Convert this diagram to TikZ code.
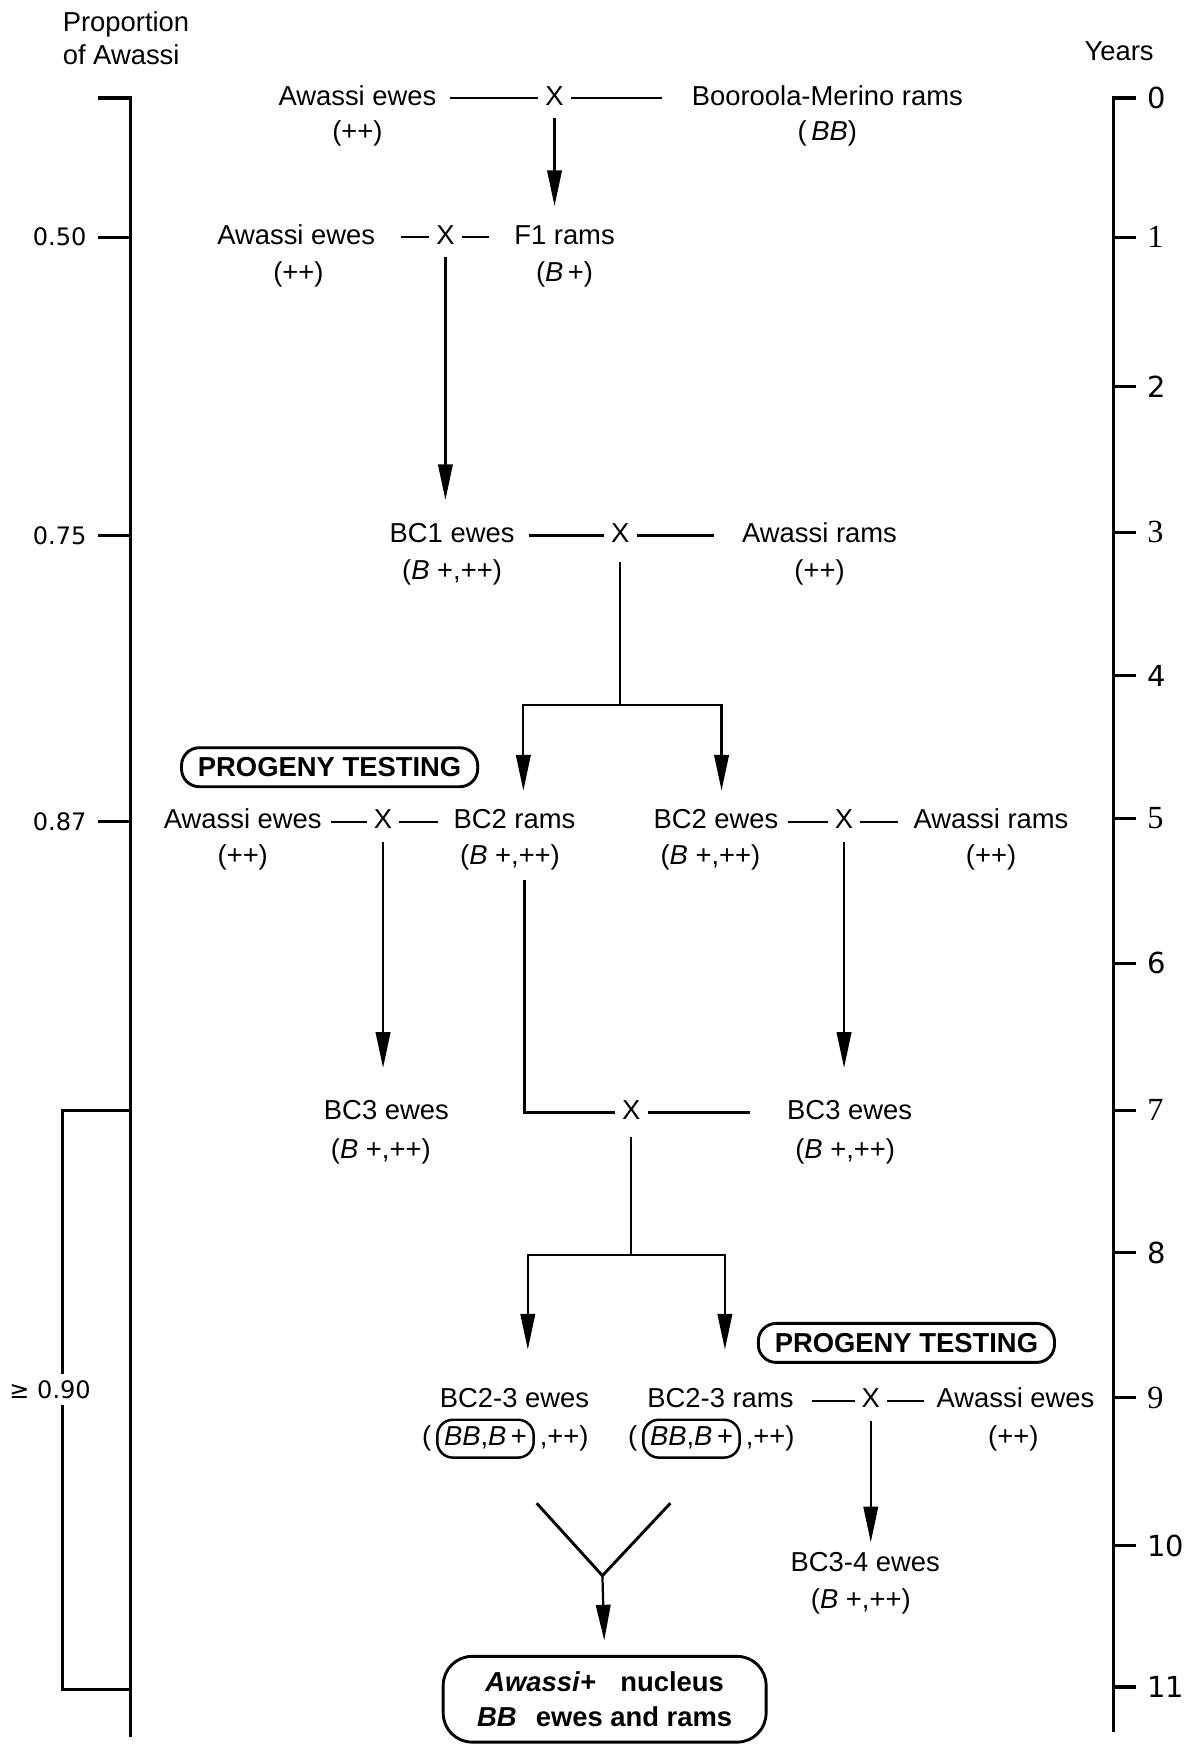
\documentclass[tikz,border=0pt]{standalone}
\usepackage{fontspec}
\setmainfont{Liberation Sans}
\newfontfamily\numfont{DejaVu Sans}
\newfontfamily\yearserif{Liberation Serif}
\usetikzlibrary{arrows.meta,positioning,calc}
\tikzset{
  lbl/.style={font=\fontsize{12.3}{15}\selectfont,inner sep=2pt,text height=9pt,text depth=2.6pt},
  cross/.style={lbl,inner sep=3pt},
  link/.style={line width=1pt},
  arr/.style={link,-{Triangle[length=16pt,width=6.5pt]}},
  axis/.style={line width=1.4pt},
  tick/.style={font=\numfont\fontsize{10.8}{13}\selectfont,inner sep=1pt},
  yr/.style={font=\numfont\fontsize{13}{15}\selectfont,anchor=west,inner sep=1pt},
  yrodd/.style={yr,font=\yearserif\fontsize{14.5}{16}\selectfont},
  testbox/.style={draw,line width=1.3pt,rounded corners=8pt,minimum width=133pt,minimum height=17.5pt,inner sep=1pt,font=\fontsize{12.3}{15}\selectfont\bfseries},
  gbox/.style={lbl,draw,line width=1.1pt,rounded corners=7pt,minimum height=17pt,inner xsep=3pt},
  nucleus/.style={draw,line width=1.3pt,rounded corners=13pt,minimum width=145pt,minimum height=38.5pt,align=center,font=\fontsize{12.3}{16}\selectfont\bfseries},
}

\begin{document}
\begin{tikzpicture}[x=0.5pt,y=-0.5pt]
  \useasboundingbox (0,0) rectangle (1076,1568);
  % scales
  \node[lbl,align=left,anchor=north west,text height=,text depth=] (prop) at (52,6) {Proportion\\of Awassi};
  \node[lbl] (years) at (1005,48) {Years};
  \draw[axis] (88,88) -- (117,88) -- (117,1560);
  \foreach \y/\p in {213/0.50,481/0.75,738/0.87}{
    \draw[axis] (88,\y) -- (117,\y);
    \node[tick,anchor=east] (p\y) at (80,\y) {\p};
  }
  \draw[axis] (117,997) -- (56,997) -- (56,1517) -- (117,1517);
  \node[tick,fill=white,inner ysep=3pt] (p90) at (45,1248) {≥ 0.90};
  \draw[axis] (1020,88) -- (1000,88) -- (1000,1555);
  \foreach \y/\n/\s in {88/0/yr,213/1/yrodd,347/2/yr,478/3/yrodd,607/4/yr,735/5/yrodd,
      865/6/yr,997/7/yrodd,1125/8/yr,1255/9/yrodd,1388/10/yr,1515/11/yr}{
    \draw[axis] (1000,\y) -- (1020,\y);
    \node[\s] (yr\n) at (1028,\y) {\n};
  }

  % year 0
  \node[lbl] (aw0) at (321,88) {Awassi ewes};
  \node[lbl] (aw0g) at (321,120) {(++)};
  \node[cross] (x0) at (498,88) {X};
  \node[lbl] (bm0) at (743,88) {Booroola-Merino rams};
  \node[lbl] (bm0g) at (743,120) {(\,\textit{BB})};
  % year 1
  \node[lbl] (aw1) at (266,213) {Awassi ewes};
  \node[lbl] (aw1g) at (268,246) {(++)};
  \node[cross] (x1) at (400,213) {X};
  \node[lbl] (f1) at (507,213) {F1 rams};
  \node[lbl] (f1g) at (507,246) {(\textit{B}\,+)};
  \draw[link,shorten <=4pt] (aw0) -- (x0);
  \draw[link,shorten >=11pt] (x0) -- (bm0);
  \draw[arr,shorten >=6pt] (x0) -- (x0 |- f1.north);
  \draw[link,shorten <=9.5pt] (aw1) -- (x1);
  \draw[link,shorten >=9pt] (x1) -- (f1);
  % year 3
  \node[lbl] (bc1) at (406,481) {BC1 ewes};
  \node[lbl] (bc1g) at (406,514) {(\textit{B} +,++)};
  \node[cross] (x3) at (557,481) {X};
  \node[lbl] (aw3) at (736,481) {Awassi rams};
  \node[lbl] (aw3g) at (736,514) {(++)};
  \draw[arr,shorten >=8pt] (x1) -- (x1 |- bc1.north);
  \draw[link,shorten <=4.5pt] (bc1) -- (x3);
  \draw[link,shorten >=10.5pt] (x3) -- (aw3);
  \coordinate (split1) at (557,633);
  % year 5
  \node[testbox] (pt1) at (296,689) {PROGENY TESTING};
  \node[lbl] (aw5) at (218,738) {Awassi ewes};
  \node[lbl] (aw5g) at (218,770) {(++)};
  \node[cross] (x5l) at (344,738) {X};
  \node[lbl] (bc2r) at (462,738) {BC2 rams};
  \node[lbl] (bc2rg) at (458,770) {(\textit{B} +,++)};
  \node[lbl] (bc2e) at (643,738) {BC2 ewes};
  \node[lbl] (bc2eg) at (638,770) {(\textit{B} +,++)};
  \node[cross] (x5r) at (758,738) {X};
  \node[lbl] (aw5r) at (890,738) {Awassi rams};
  \node[lbl] (aw5rg) at (890,770) {(++)};
  \draw[link,shorten <=3pt] (x3) -- (split1);
  \draw[arr,shorten >=6pt] (split1) -| ([xshift=4pt]bc2r.north);
  \draw[arr,shorten >=6pt] (split1) -| ([xshift=2.5pt]bc2e.north);
  \draw[link,shorten <=2pt] (aw5) -- (x5l);
  \draw[link,shorten >=5pt] (x5l) -- (bc2r);
  \draw[link,shorten <=2pt] (bc2e) -- (x5r);
  \draw[link,shorten >=5pt] (x5r) -- (aw5r);
  % year 7
  \node[lbl] (bc3l) at (347,999) {BC3 ewes};
  \node[lbl] (bc3lg) at (342,1034) {(\textit{B} +,++)};
  \node[cross] (x7) at (567,999) {X};
  \node[lbl] (bc3r) at (763,999) {BC3 ewes};
  \node[lbl] (bc3rg) at (759,1034) {(\textit{B} +,++)};
  \draw[arr,shorten >=12pt] (x5l) -- (x5l |- bc3l.north);
  \draw[arr,shorten >=12pt] (x5r) -- (x5r |- bc3r.north);
  \draw[link,shorten <=2pt] ([xshift=6.5pt]bc2rg.south) |- (x7);
  \draw[link,shorten >=14.5pt] (x7) -- (bc3r);
  \coordinate (split2) at (567,1127);
  % year 9
  \node[testbox] (pt2) at (814,1206) {PROGENY TESTING};
  \node[lbl] (bc23e) at (462,1258) {BC2-3 ewes};
  \node[gbox] (bbe) at (436,1292) {\textit{BB},\textit{B}\,+};
  \node[lbl,left=0pt of bbe] (bbel) {(};
  \node[lbl,right=0pt of bbe] (bber) {,++)};
  \node[lbl] (bc23r) at (647,1258) {BC2-3 rams};
  \node[gbox] (bbr) at (621,1292) {\textit{BB},\textit{B}\,+};
  \node[lbl,left=0pt of bbr] (bbrl) {(};
  \node[lbl,right=0pt of bbr] (bbrr) {,++)};
  \node[cross] (x9) at (782,1258) {X};
  \node[lbl] (aw9) at (912,1258) {Awassi ewes};
  \node[lbl] (aw9g) at (910,1292) {(++)};
  \draw[link,shorten <=2pt] (x7) -- (split2);
  \draw[arr,shorten >=15pt] (split2) -| ([xshift=6pt]bc23e.north);
  \draw[arr,shorten >=15pt] (split2) -| ([xshift=2pt]bc23r.north);
  \draw[link,shorten <=6pt] (bc23r) -- (x9);
  \draw[link,shorten >=3.5pt] (x9) -- (aw9);
  % year 10-11
  \node[lbl] (bc34) at (777,1405) {BC3-4 ewes};
  \node[lbl] (bc34g) at (773,1438) {(\textit{B} +,++)};
  \draw[arr,shorten >=2pt] (x9) -- (x9 |- bc34.north);
  \node[nucleus] (nuc) at (543,1526) {\textit{Awassi+}\hspace{0.9em}nucleus\\\textit{BB}\hspace{0.7em}ewes and rams};
  \coordinate (yl) at (482,1350);
  \coordinate (yr) at (602,1350);
  \coordinate (yj) at (541,1415);
  \draw[link,line width=1.3pt] (yl) -- (yj) -- (yr);
  \draw[arr,shorten >=6.5pt] (yj) -- (nuc.north);
\end{tikzpicture}
\end{document}
